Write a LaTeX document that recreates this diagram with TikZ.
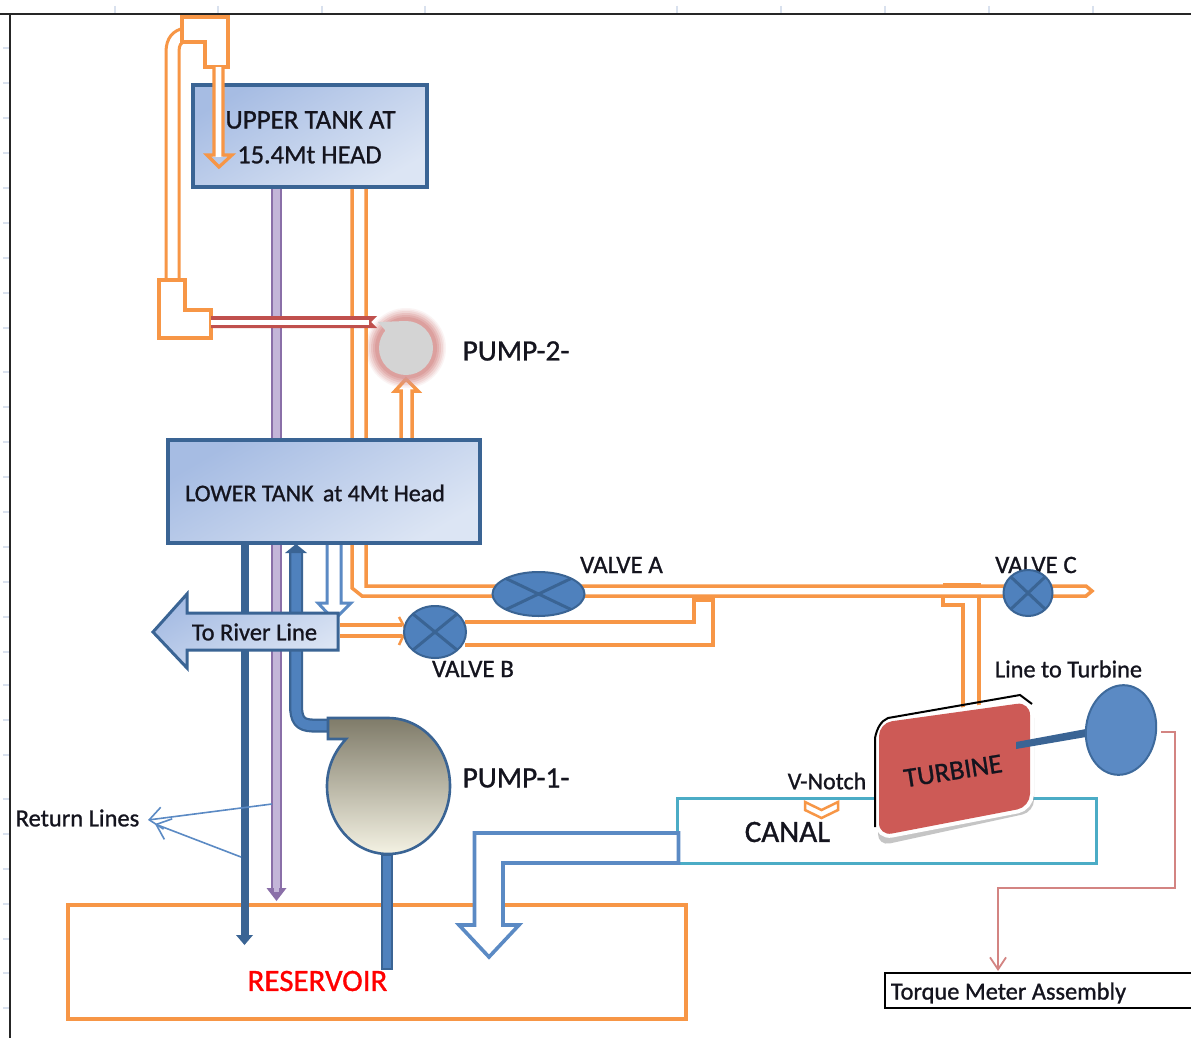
\documentclass[tikz,border=0pt]{standalone}
\usepackage{fontspec}
\setmainfont[FakeBold=1]{Carlito}
\usetikzlibrary{arrows.meta}
\definecolor{orng}{HTML}{F79646}
\definecolor{navy}{HTML}{3A6494}
\definecolor{blu}{HTML}{4F81BD}
\definecolor{lblu}{HTML}{5B8AC4}
\definecolor{purp}{HTML}{8A6FA8}
\definecolor{lpurp}{HTML}{C3B5D8}
\definecolor{redp}{HTML}{C0504D}
\definecolor{turb}{HTML}{CD5A56}
\definecolor{cyanl}{HTML}{4BACC6}
\definecolor{tick}{HTML}{D9E1EE}
\definecolor{txt}{HTML}{14141E}
\definecolor{tankA}{HTML}{A6BCE3}
\definecolor{tankB}{HTML}{DCE5F4}
\definecolor{pumpA}{HTML}{7F7B69}
\definecolor{pumpM}{HTML}{B3B09F}
\definecolor{pumpB}{HTML}{F4F2E3}
\tikzset{
  lab/.style={inner sep=0pt,text=txt,anchor=center},
  opipe/.style={draw=orng,line width=3.5pt,line join=miter},
  tank/.style={draw=navy,line width=3.5pt,shading=axis,top color=tankA,bottom color=tankB,shading angle=30},
  bpipe/.style={draw=lblu,line width=3pt,fill=white},
  valve/.style={draw=navy,line width=2pt,fill=blu},
  valvex/.style={draw=navy,line width=3pt},
  sheettick/.style={draw=tick,line width=1.2pt},
  retarrow/.style={draw=lblu,line width=1.6pt,-{Straight Barb[length=13pt,width=22pt,line width=1.6pt]}},
}
\begin{document}
\begin{tikzpicture}[x=1pt,y=-1pt]
\useasboundingbox (0,0) rectangle (1191,1038);
\fill[white] (0,0) rectangle (1191,1038);
% sheet ticks and edges
\foreach \t in {115,218,322,425,677,781,885,989,1093}
  \draw[sheettick] (\t,6) -- (\t,14);
\foreach \t in {48,83,118,153,188,223,258,293,328,372,407,442,477,512,547,582,617,652,685,720,755,799,834,869,904,939,973,1008}
  \draw[sheettick] (3,\t) -- (10,\t);
\draw[black!85,line width=1.6pt] (0,14) -- (1191,14);
\draw[black!85,line width=1.6pt] (10,14) -- (10,1038);

% reservoir
\draw[draw=orng,line width=4pt] (68,905) rectangle (686,1019);
\node[lab,text=red,font=\fontsize{31}{31}\selectfont] (reslab) at (317.5,981) {RESERVOIR};

% vertical purple return
\fill[lpurp] (271,188) rectangle (282,890);
\draw[purp,line width=2.4pt] (272,188) -- (272,890) (281,188) -- (281,890);
\fill[purp] (266.5,888) -- (286.5,888) -- (276.5,901) -- cycle;
\fill[lpurp] (274,886) rectangle (279,892);

% orange line from upper tank to main
\draw[opipe] (352,186) -- (352,588) -- (362,596) -- (1086,596) -- (1092,591) -- (1086,586) -- (366,586) -- (366,186);

% branch below main, from valve B
\draw[opipe] (465,622) -- (694,622) -- (694,598);
\draw[opipe] (465,645) -- (713,645) -- (713,598);
\draw[orng,line width=4pt] (692,600) -- (715,600);

% tee to turbine
\draw[opipe] (943,596) -- (943,605) -- (963,605) -- (963,708);
\draw[opipe] (979,596) -- (979,708);
\draw[orng,line width=4pt] (943,585) -- (981,585);

% arrow up into pump 2
\fill[white] (400,442) -- (400,391) -- (395,391) -- (406,378) -- (417,391) -- (412,391) -- (412,442) -- cycle;
\draw[opipe] (401,440) -- (401,391) -- (395,391) -- (406,379) -- (418,391) -- (412,391) -- (412,440);

% pipes from upper elbow
\draw[orng,line width=3pt,fill=white] (179,280) -- (179,52) .. controls (179,45) and (181,42) .. (185,42) -- (185,28) .. controls (173,30) and (166,38) .. (166,52) -- (166,280) -- cycle;
\draw[opipe,fill=white] (182,17) -- (228,17) -- (228,67) -- (205,67) -- (205,42) -- (182,42) -- cycle;
\draw[opipe,fill=white] (159,280) -- (185,280) -- (185,310) -- (211,310) -- (211,338) -- (159,338) -- cycle;

% upper tank
\draw[tank] (193,85) rectangle (427,187);
\node[lab,font=\fontsize{27}{27}\selectfont] (uplab1) at (310.5,120) {UPPER TANK AT};
\node[lab,font=\fontsize{26.3}{27}\selectfont] (uplab2) at (309.5,155) {15.4Mt HEAD};

% arrow into upper tank
\fill[white] (213,67) rectangle (223,157);
\draw[orng,line width=3.2pt] (214,67) -- (214,155) -- (207,155) -- (219,167) -- (232,155) -- (223,155) -- (223,67);

% red delivery pipe and pump 2 glow
\foreach \r/\o in {40/.10,38.5/.14,37/.2,35/.3,33/.4,31/.6}
  \fill[redp!60!white,opacity=\o] (406,348) circle[radius=\r];
\fill[redp] (211,316) -- (377,316) -- (371,322) -- (377,328) -- (211,328) -- cycle;
\fill[white] (211,320) rectangle (369,324.5);
\fill[black!17] (378,322) -- (406,321) -- (388,345) -- (385,330) -- cycle;
\fill[black!17] (406,348) circle[radius=27];
\node[lab,font=\fontsize{29.5}{30}\selectfont] (p2lab) at (516,351) {PUMP-2-};

% lower tank
\draw[tank] (168,440) rectangle (480,543);
\node[lab,font=\fontsize{24}{24}\selectfont] (lowlab) at (315,493) {LOWER TANK\, at 4Mt Head};

% return line, dark
\fill[navy] (241,543) rectangle (249,936);
\fill[navy] (236,935) -- (253,935) -- (244.5,945) -- cycle;

% pump 1 discharge line (blue, round corner)
\draw[navy,line width=14pt] (296,552) -- (296,705) .. controls (296,720) and (300,725) .. (312,725.5) -- (332,725.5);
\draw[blu,line width=9.5pt] (296,552) -- (296,705) .. controls (296,720) and (300,725) .. (312,725.5) -- (332,725.5);
\fill[navy] (285,553) -- (307,553) -- (296,544) -- cycle;

% hollow blue drain from lower tank
\draw[bpipe] (327,545) -- (327,603) -- (318,603) -- (334,620) -- (351,603) -- (341,603) -- (341,545);

% to-river arrow
\draw[draw=navy,line width=3pt,line join=miter,shading=axis,top color=tankA,bottom color=tankB,shading angle=30] (153,632) -- (187,594) -- (187,613) -- (338,613) -- (338,650) -- (187,650) -- (187,668) -- cycle;
\node[lab,font=\fontsize{24.5}{25}\selectfont] (rivlab) at (254.5,632) {To River Line};

% orange arrow to valve B
\draw[opipe] (340,625) -- (402,625) (340,636) -- (402,636);
\draw[orng,line width=2.5pt] (399,617) -- (406,630) -- (399,645);

% valves
\draw[valve] (435,632) ellipse[x radius=31,y radius=26];
\draw[valvex] (413,614) -- (457,650) (413,650) -- (457,614);
\draw[valve] (538.5,594) ellipse[x radius=46,y radius=22];
\draw[valvex] (506,578.5) -- (571,609.5) (506,609.5) -- (571,578.5);
\node[lab,font=\fontsize{25}{25}\selectfont] (vala) at (621.5,565) {VALVE A};
\node[lab,font=\fontsize{25}{25}\selectfont] (valb) at (473,669) {VALVE B};
\node[lab,font=\fontsize{25}{25}\selectfont] (valc) at (1036,565) {VALVE C};
\draw[valve] (1028,593) ellipse[x radius=24.5,y radius=23];
\draw[valvex] (1011,577) -- (1045,609) (1011,609) -- (1045,577);

% pump 1 body
\draw[draw=navy,line width=2.6pt,shading=axis,top color=pumpA,middle color=pumpM,bottom color=pumpB]
  (328,718) -- (388,718) .. controls (422,718) and (450,748) .. (450,786)
  .. controls (450,824) and (422,854) .. (388,854)
  .. controls (354,854) and (327,824) .. (327,786)
  .. controls (327,768) and (334,752) .. (346,739) -- (328,739) -- cycle;
\node[lab,font=\fontsize{29.5}{30}\selectfont] (p1lab) at (516,778) {PUMP-1-};
\draw[draw=navy,line width=2pt,fill=blu] (382,855) rectangle (391.5,969);

% return line callouts
\node[lab,font=\fontsize{24.5}{25}\selectfont] (retlab) at (77.5,818) {Return Lines};
\coordinate (retA) at (272,804);
\coordinate (retB) at (241,857);
\coordinate (retT) at (148,820);
\coordinate (retU) at (155,824);
\draw[retarrow] (retA) -- (retT);
\draw[retarrow] (retB) -- (retU);

% canal
\draw[draw=cyanl,line width=3pt] (677,798) rectangle (1096,863);
\node[lab,font=\fontsize{31}{31}\selectfont] (canlab) at (787.5,832) {CANAL};
\node[lab,font=\fontsize{24}{24}\selectfont] (vnlab) at (827,781) {V-Notch};
\draw[orng,line width=2.5pt,fill=white] (805,802) -- (805,810) -- (821.5,818) -- (838,810) -- (838,802) -- (821.5,810) -- cycle;

% hollow blue spill from canal to reservoir
\draw[draw=lblu,line width=3.6pt,fill=white,line join=miter] (678.5,833) -- (474.5,833) -- (474.5,925) -- (459,925) -- (489,957) -- (519,925) -- (503,925) -- (503,863) -- (678.5,863) -- cycle;

% turbine
\fill[black!45,opacity=.5,rounded corners=12pt] (878,730) -- (1034,706) -- (1034,812) -- (878,846) -- cycle;
\draw[draw=white,line width=8pt,rounded corners=13pt] (879,723) -- (1030,702) -- (1030,807) -- (879,836) -- cycle;
\fill[turb,rounded corners=13pt] (879,723) -- (1030,702) -- (1030,807) -- (879,836) -- cycle;
\draw[black,line width=2pt] (875,827) -- (875,738) .. controls (877,728) and (881,721) .. (888,718) -- (1020,695) -- (1032,704);
\node[lab,rotate=9,font=\fontsize{27.5}{28}\selectfont] (turlab) at (953,771) {TURBINE};

% shaft and disk
\fill[navy] (1016,742) -- (1086,729) -- (1086,737) -- (1016,749) -- cycle;
\draw[draw=navy!80!blu,line width=2pt,fill=lblu,rotate around={-8:(1121,730)}] (1121,730) ellipse[x radius=35,y radius=45];
\node[lab,font=\fontsize{24.3}{25}\selectfont] (linelab) at (1068.5,669) {Line to Turbine};

% torque line
\coordinate (tqs) at (1161,732);
\node[draw=black,line width=2pt,minimum width=310pt,minimum height=35pt,inner sep=0pt] (tqbox) at (1040,990.5) {};
\node[lab,font=\fontsize{24.4}{25}\selectfont] (tqlab) at (1008.5,993) {Torque Meter Assembly};
\draw[draw=redp!70!white,line width=1.8pt,-{Straight Barb[length=12pt,width=16pt]}] (tqs) -- (1175,732) -- (1175,888) -- (998,888) -- (998,971);
\end{tikzpicture}
\end{document}
